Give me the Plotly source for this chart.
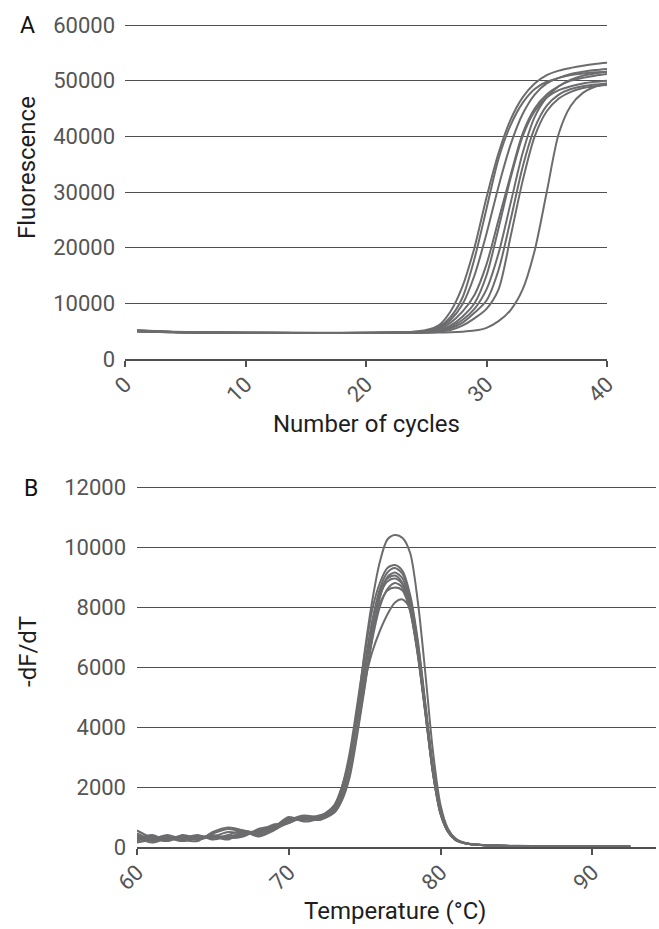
import plotly.graph_objects as go

# ---------------- Panel A: amplification curves ----------------
CYCLES = [1, 4, 8, 12, 16, 20, 22, 24, 25, 26, 27, 28, 29, 30, 31, 32, 33, 34, 35, 36, 37, 38, 39, 40]
AMP_1 = [5100, 4850, 4750, 4700, 4680, 4700, 4750, 4900, 5200, 6000, 8500, 13000, 20000, 29000, 37000, 43000, 47000, 49500, 51000, 51800, 52300, 52700, 53000, 53200]
AMP_2 = [5050, 4800, 4700, 4680, 4650, 4680, 4720, 4850, 5000, 5500, 7000, 9800, 15000, 22500, 31000, 38500, 44000, 47500, 49500, 50500, 51200, 51600, 51900, 52100]
AMP_3 = [5000, 4850, 4720, 4700, 4680, 4690, 4730, 4880, 5100, 5700, 7500, 11000, 18000, 27000, 36000, 42000, 46000, 48500, 49800, 50500, 51000, 51300, 51500, 51600]
AMP_4 = [5150, 4900, 4750, 4700, 4690, 4700, 4720, 4800, 5000, 5400, 6500, 8500, 11500, 17000, 25000, 33000, 40500, 45000, 47500, 49000, 50000, 50500, 50900, 51200]
AMP_5 = [4950, 4800, 4700, 4680, 4670, 4680, 4700, 4780, 4900, 5200, 6000, 7600, 10000, 15000, 23500, 32500, 40000, 44500, 47000, 48300, 49000, 49500, 49800, 50000]
AMP_6 = [5050, 4850, 4730, 4700, 4700, 4700, 4710, 4750, 4850, 5100, 5700, 7000, 9000, 12500, 19000, 28000, 37000, 43500, 47000, 49000, 50200, 50900, 51300, 51600]
AMP_7 = [5000, 4820, 4700, 4680, 4670, 4690, 4700, 4740, 4800, 5000, 5500, 6500, 8300, 10500, 16000, 25000, 34500, 41500, 45500, 47500, 48500, 49000, 49300, 49500]
AMP_8 = [5100, 4860, 4740, 4710, 4690, 4700, 4710, 4730, 4780, 4900, 5200, 6000, 7300, 9000, 12500, 22000, 32000, 40000, 44500, 46800, 48000, 48700, 49000, 49200]
AMP_9 = [5000, 4830, 4720, 4690, 4680, 4690, 4700, 4710, 4720, 4750, 4800, 4900, 5100, 5600, 6800, 8800, 12500, 19500, 30000, 40500, 45500, 47800, 48900, 49500]
AMP_SERIES = [AMP_1, AMP_2, AMP_3, AMP_4, AMP_5, AMP_6, AMP_7, AMP_8, AMP_9]
A_YTICKS = [0, 10000, 20000, 30000, 40000, 50000, 60000]
A_XTICKS = [0, 10, 20, 30, 40]

# ---------------- Panel B: melt curves ----------------
TEMPS = [60, 61, 62, 63, 64, 65, 66, 67, 68, 69, 70, 71, 72, 73, 73.5, 74, 74.5, 75, 75.5, 76, 76.5, 77, 77.5, 78, 78.5, 79, 79.5, 80, 80.5, 81, 81.5, 82, 83, 84, 86, 88, 90, 92.5]
MELT_1 = [450, 250, 350, 200, 300, 350, 300, 400, 550, 700, 900, 950, 1000, 1400, 2000, 2900, 4500, 6500, 8200, 9500, 10250, 10400, 10300, 9800, 8200, 5800, 3200, 1400, 600, 280, 150, 100, 60, 40, 35, 30, 25, 20]
MELT_2 = [300, 150, 300, 350, 250, 450, 600, 500, 400, 600, 800, 1000, 900, 1350, 2000, 3100, 4700, 6400, 7900, 8800, 9300, 9400, 9200, 8400, 6900, 4800, 2700, 1250, 550, 250, 150, 100, 60, 45, 35, 30, 25, 20]
MELT_3 = [200, 350, 250, 300, 350, 350, 500, 450, 500, 650, 1000, 850, 950, 1250, 1750, 2700, 4200, 5900, 7500, 8600, 9150, 9300, 9100, 8300, 6800, 4700, 2600, 1200, 520, 240, 140, 90, 55, 40, 30, 30, 25, 20]
MELT_4 = [550, 300, 200, 400, 300, 400, 300, 350, 600, 700, 900, 1050, 1000, 1150, 1550, 2300, 3700, 5300, 7000, 8300, 9000, 9150, 8950, 8150, 6600, 4600, 2500, 1150, 500, 230, 140, 90, 55, 40, 30, 25, 25, 20]
MELT_5 = [150, 250, 400, 250, 200, 500, 650, 550, 350, 550, 850, 1000, 900, 1350, 1900, 2900, 4400, 6000, 7500, 8500, 8950, 9050, 8800, 8000, 6500, 4500, 2500, 1100, 500, 230, 130, 90, 55, 40, 30, 25, 20, 20]
MELT_6 = [350, 200, 300, 300, 400, 250, 350, 450, 550, 600, 950, 900, 1000, 1300, 1800, 2750, 4300, 5900, 7400, 8400, 8850, 8950, 8750, 7950, 6500, 4550, 2550, 1150, 520, 240, 140, 90, 55, 40, 30, 25, 20, 20]
MELT_7 = [250, 400, 200, 350, 300, 350, 250, 500, 500, 750, 800, 1000, 950, 1200, 1600, 2400, 3800, 5400, 6900, 8000, 8600, 8800, 8650, 7900, 6450, 4500, 2500, 1150, 520, 240, 140, 90, 55, 40, 30, 25, 20, 20]
MELT_8 = [400, 250, 300, 200, 350, 300, 400, 550, 450, 650, 900, 950, 1050, 1250, 1800, 2800, 4300, 5800, 7200, 8100, 8550, 8650, 8550, 7850, 6400, 4450, 2450, 1100, 500, 230, 130, 90, 55, 40, 30, 25, 20, 20]
MELT_9 = [300, 300, 250, 300, 250, 350, 300, 400, 500, 700, 850, 950, 900, 1150, 1600, 2700, 4200, 5500, 6500, 7200, 7750, 8150, 8250, 7950, 6700, 4700, 2600, 1200, 540, 250, 140, 90, 55, 40, 30, 25, 20, 20]
MELT_SERIES = [MELT_1, MELT_2, MELT_3, MELT_4, MELT_5, MELT_6, MELT_7, MELT_8, MELT_9]
B_YTICKS = [0, 2000, 4000, 6000, 8000, 10000, 12000]
B_XTICKS = [60, 70, 80, 90]

W, H = 659, 929
LINE_COLOR = "#6c6c6e"
GRID_COLOR = "#505050"
TICK_FONT = dict(family="Roboto, Arial, sans-serif", size=22, color="#555555")
TITLE_FONT = dict(family="Roboto, Arial, sans-serif", size=24, color="#1e1e1e")
PANEL_FONT = dict(family="Roboto, Arial, sans-serif", size=23, color="#111111")

fig = go.Figure()
for ys in AMP_SERIES:
    fig.add_trace(go.Scatter(x=CYCLES, y=ys, mode="lines", xaxis="x", yaxis="y",
                             line=dict(color=LINE_COLOR, width=2, shape="spline", smoothing=0.8),
                             showlegend=False, hoverinfo="skip"))
for ys in MELT_SERIES:
    fig.add_trace(go.Scatter(x=TEMPS, y=ys, mode="lines", xaxis="x2", yaxis="y2",
                             line=dict(color=LINE_COLOR, width=2, shape="spline", smoothing=0.8),
                             showlegend=False, hoverinfo="skip"))

def px_x(p):
    return p / W

def px_y(p):
    return 1 - p / H

# Panel A geometry (pixels): x 0->125, 40->607 ; y 0->359, 60000->25
a_top_val = 60600
a_top_px = 359 - (359 - 25) * a_top_val / 60000
# Panel B geometry: x 60->137 ; y 0->847, 12000->487
b_xmax = 94.2
b_top_val = 12120
b_top_px = 847 - (847 - 487) * b_top_val / 12000

common_x = dict(showgrid=False, zeroline=False, showline=True, linecolor=GRID_COLOR, linewidth=1.5,
                ticks="outside", ticklen=6, tickwidth=1.5, tickcolor=GRID_COLOR,
                tickangle=-45, tickfont=TICK_FONT, automargin=False, ticklabelstandoff=-4)
common_y = dict(showgrid=True, gridcolor=GRID_COLOR, gridwidth=1.3, zeroline=False, showline=False,
                ticks="", tickfont=TICK_FONT, tickformat="d", automargin=False)

fig.update_layout(
    width=W, height=H,
    margin=dict(l=0, r=0, t=0, b=0),
    paper_bgcolor="white", plot_bgcolor="white",
    showlegend=False,
    xaxis=dict(domain=[px_x(125), px_x(607)], range=[0, 40], tickvals=A_XTICKS, anchor="y", **common_x),
    yaxis=dict(domain=[px_y(359), px_y(a_top_px)], range=[0, a_top_val], tickvals=A_YTICKS,
               anchor="x", ticklabelstandoff=9, **common_y),
    xaxis2=dict(domain=[px_x(137), px_x(656)], range=[60, b_xmax], tickvals=B_XTICKS, anchor="y2", **common_x),
    yaxis2=dict(domain=[px_y(847), px_y(b_top_px)], range=[0, b_top_val], tickvals=B_YTICKS,
                anchor="x2", ticklabelstandoff=10, **common_y),
)

annotations = [
    dict(text="A", x=px_x(27), y=px_y(25), font=PANEL_FONT),
    dict(text="B", x=px_x(31), y=px_y(488), font=PANEL_FONT),
    dict(text="Number of cycles", x=px_x(366), y=px_y(424), font=TITLE_FONT),
    dict(text="Temperature (°C)", x=px_x(395), y=px_y(911), font=TITLE_FONT),
    dict(text="Fluorescence", x=px_x(27), y=px_y(168), textangle=-90, font=TITLE_FONT),
    dict(text="-dF/dT", x=px_x(28), y=px_y(652), textangle=-90, font=TITLE_FONT),
]
for a in annotations:
    fig.add_annotation(xref="paper", yref="paper", showarrow=False, xanchor="center", yanchor="middle", **a)

fig.write_html("out.html")
